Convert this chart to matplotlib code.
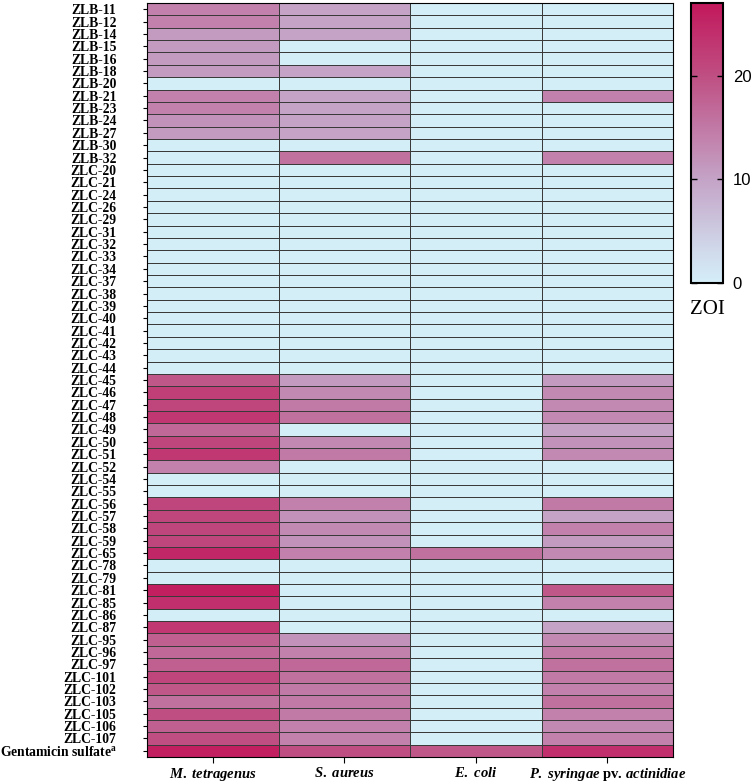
import numpy as np
import matplotlib
matplotlib.use("Agg")
import matplotlib.pyplot as plt
from matplotlib.colors import LinearSegmentedColormap

plt.rcParams['mathtext.fontset'] = 'custom'
plt.rcParams['mathtext.rm'] = 'Liberation Serif:bold'
plt.rcParams['mathtext.it'] = 'Liberation Serif:italic:bold'

compounds = (["ZLB-11", "ZLB-12", "ZLB-14", "ZLB-15", "ZLB-16", "ZLB-18", "ZLB-20",
              "ZLB-21", "ZLB-23", "ZLB-24", "ZLB-27", "ZLB-30", "ZLB-32"]
             + ["ZLC-%d" % n for n in [20, 21, 24, 26, 29, 31, 32, 33, 34, 37, 38, 39, 40,
                                       41, 42, 43, 44, 45, 46, 47, 48, 49, 50, 51, 52, 54,
                                       55, 56, 57, 58, 59, 65, 78, 79, 81, 85, 86, 87, 95,
                                       96, 97, 101, 102, 103, 105, 106, 107]]
             + ["Gentamicin sulfate$^{\\rm a}$"])

strains = [r"$\it{M.\ tetragenus}$", r"$\it{S.\ aureus}$", r"$\it{E.\ coli}$",
           r"$\it{P.\ syringae}$ pv. $\it{actinidiae}$"]

# zone of inhibition (mm), columns: M. tetragenus, S. aureus, E. coli, P. syringae
zlb_zoi = [
    [14, 10, 0, 0], [14, 10, 0, 0], [11, 10, 0, 0], [11, 0, 0, 0], [11, 0, 0, 0],
    [11, 10, 0, 0], [0, 0, 0, 0], [14, 10, 0, 14], [14, 10, 0, 0], [12, 10, 0, 0],
    [11, 10, 0, 0], [0, 0, 0, 0], [0, 16, 0, 14],
]
zlc_inactive = [[0, 0, 0, 0]] * 17  # ZLC-20 .. ZLC-44
zlc_zoi = [
    [19, 11, 0, 11],  # 45
    [22, 13, 0, 13],  # 46
    [21, 15, 0, 13],  # 47
    [23, 16, 0, 13],  # 48
    [17, 0, 0, 10],   # 49
    [21, 13, 0, 12],  # 50
    [23, 15, 0, 13],  # 51
    [14, 0, 0, 0],    # 52
    [0, 0, 0, 0],     # 54
    [0, 0, 0, 0],     # 55
    [21, 14, 0, 15],  # 56
    [21, 12, 0, 10],  # 57
    [21, 13, 0, 14],  # 58
    [21, 12, 0, 11],  # 59
    [25, 14, 16, 13], # 65
    [0, 0, 0, 0],     # 78
    [0, 0, 0, 0],     # 79
    [26, 0, 0, 19],   # 81
    [24, 0, 0, 14],   # 85
    [0, 0, 0, 0],     # 86
    [23, 0, 0, 10],   # 87
    [18, 12, 0, 13],  # 95
    [17, 14, 0, 15],  # 96
    [18, 17, 0, 16],  # 97
    [21, 16, 0, 15],  # 101
    [19, 15, 0, 14],  # 102
    [16, 15, 0, 16],  # 103
    [20, 15, 0, 14],  # 105
    [18, 14, 0, 13],  # 106
    [20, 14, 0, 14],  # 107
]
control_zoi = [[26, 20, 19, 24]]

data = np.array(zlb_zoi + zlc_inactive + zlc_zoi + control_zoi, dtype=float)

cmap = LinearSegmentedColormap.from_list(
    "zoi", [(0.0, "#d4eef8"), (0.12, "#d0d8ea"), (0.37, "#c4a3c7"),
            (0.74, "#bf4f83"), (1.0, "#c2185b")])

fig = plt.figure(figsize=(7.52, 7.84), dpi=100)
ax = fig.add_axes([0.1955, 0.0344, 0.6995, 0.9617])
mesh = ax.pcolormesh(data, cmap=cmap, vmin=0, vmax=27,
                     edgecolors="#3a3a3a", linewidth=0.5)
ax.set_ylim(len(compounds), 0)
ax.set_xlim(0, len(strains))
ax.set_yticks(np.arange(len(compounds)) + 0.5)
ax.set_yticklabels(compounds, family="Liberation Serif", fontweight="bold", fontsize=9.8)
ax.set_xticks(np.arange(len(strains)) + 0.5)
ax.set_xticklabels(strains, family="Liberation Serif", fontweight="bold", fontsize=10.5)
ax.tick_params(axis="y", length=3, width=0.8, pad=19)
ax.tick_params(axis="x", length=4.5, width=0.8, pad=2)
for s in ax.spines.values():
    s.set_linewidth(0.8)

cax = fig.add_axes([0.919, 0.639, 0.0426, 0.357])
cb = fig.colorbar(mesh, cax=cax, ticks=[0, 10, 20])
cb.outline.set_linewidth(1.5)
cax.tick_params(direction="in", length=4, width=1, labelsize=12, pad=7,
                left=True, right=True)
for t in cax.get_yticklabels():
    t.set_family("Liberation Sans")
cax.text(0.5, -0.06, "ZOI", transform=cax.transAxes, ha="center", va="top",
         family="Liberation Serif", fontsize=15)

fig.savefig("out.png", dpi=100)
